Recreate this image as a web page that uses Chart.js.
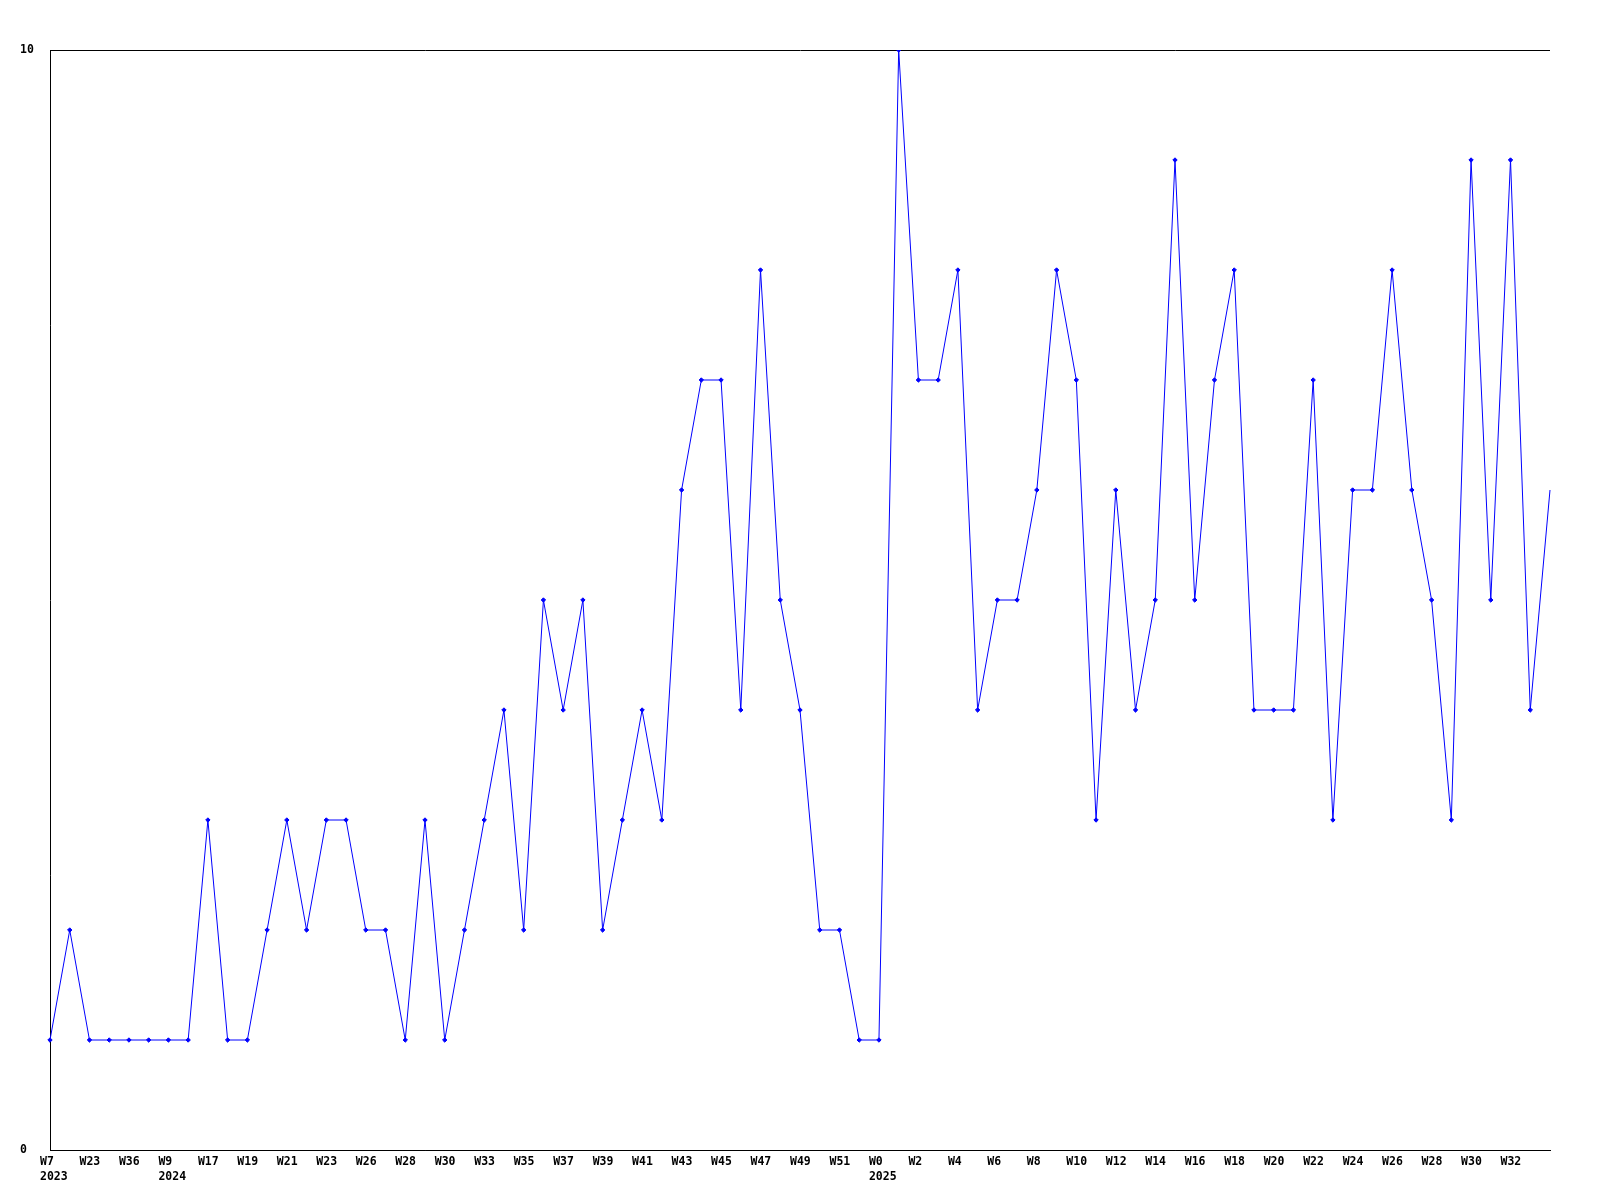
<!DOCTYPE html>
<html>
<head>
<meta charset="utf-8">
<script src="https://cdn.jsdelivr.net/npm/chart.js@4/dist/chart.umd.min.js"></script>
<style>
  html, body { margin: 0; padding: 0; background: #ffffff; }
  #wrap { width: 1600px; height: 1200px; }
</style>
</head>
<body>
<div id="wrap"><canvas id="c" width="1600" height="1200"></canvas></div>
<script>
// Week labels (every other one is shown on the axis)
const weeks = [
  'W7','W15','W23','W30','W36','W50','W9','W13','W17','W18',
  'W19','W20','W21','W22','W23','W25','W26','W27','W28','W29',
  'W30','W32','W33','W34','W35','W36','W37','W38','W39','W40',
  'W41','W42','W43','W44','W45','W46','W47','W48','W49','W50',
  'W51','W52','W0','W1','W2','W3','W4','W5','W6','W7',
  'W8','W9','W10','W11','W12','W13','W14','W15','W16','W17',
  'W18','W19','W20','W21','W22','W23','W24','W25','W26','W27',
  'W28','W29','W30','W31','W32','W33','W34'
];
const years = [
  '2023','2023','2023','2023','2023','2023','2024','2024','2024','2024',
  '2024','2024','2024','2024','2024','2024','2024','2024','2024','2024',
  '2024','2024','2024','2024','2024','2024','2024','2024','2024','2024',
  '2024','2024','2024','2024','2024','2024','2024','2024','2024','2024',
  '2024','2024','2025','2025','2025','2025','2025','2025','2025','2025',
  '2025','2025','2025','2025','2025','2025','2025','2025','2025','2025',
  '2025','2025','2025','2025','2025','2025','2025','2025','2025','2025',
  '2025','2025','2025','2025','2025','2025','2025'
];
const values = [
  1,2,1,1,1,1,1,1,3,1,
  1,2,3,2,3,3,2,2,1,3,
  1,2,3,4,2,5,4,5,2,3,
  4,3,6,7,7,4,8,5,4,2,
  2,1,1,10,7,7,8,4,5,5,
  6,8,7,3,6,4,5,9,5,7,
  8,4,4,4,7,3,6,6,8,6,
  5,3,9,5,9,4,6
];
const yTicks = [0, 10];

const FONT = { family: '"DejaVu Sans Mono", monospace', size: 11.5, weight: 'bold', lineHeight: 1.3 };
const lastIdx = values.length - 1;

new Chart(document.getElementById('c'), {
  type: 'line',
  data: {
    labels: weeks,
    datasets: [{
      data: values,
      borderColor: '#0000ff',
      backgroundColor: '#0000ff',
      borderWidth: 1,
      tension: 0,
      fill: false,
      pointStyle: 'rectRot',
      pointRadius: (ctx) => ctx.dataIndex === lastIdx ? 0 : 2.2,
      pointBorderWidth: 1,
      pointBackgroundColor: '#0000ff',
      pointBorderColor: '#0000ff'
    }]
  },
  options: {
    responsive: false,
    animation: false,
    events: [],
    layout: { padding: { left: 20, top: 50, right: 50, bottom: 0 } },
    plugins: { legend: { display: false }, tooltip: { enabled: false }, title: { display: false } },
    scales: {
      x: {
        type: 'category',
        offset: false,
        grid: { display: false, drawTicks: false },
        border: { display: true, color: '#000000', width: 1 },
        afterFit: (s) => { s.height = 50; },
        ticks: {
          autoSkip: false,
          maxRotation: 0,
          minRotation: 0,
          align: 'start',
          labelOffset: -10,
          padding: 4.5,
          color: '#000000',
          font: FONT,
          callback: function (val, i) {
            if (i % 2 !== 0 || i === lastIdx) return null;
            const w = weeks[i];
            if (i === 0 || years[i] !== years[i - 1]) return [w, years[i]];
            return w;
          }
        }
      },
      y: {
        min: yTicks[0],
        max: yTicks[yTicks.length - 1],
        afterBuildTicks: (s) => { s.ticks = yTicks.map(v => ({ value: v })); },
        afterFit: (s) => { s.width = 30; },
        grid: { display: true, drawTicks: false, color: '#000000', lineWidth: 1 },
        border: { display: true, color: '#000000', width: 1 },
        ticks: {
          crossAlign: 'far',
          padding: 0,
          color: '#000000',
          font: FONT
        }
      }
    }
  }
});
</script>
</body>
</html>
